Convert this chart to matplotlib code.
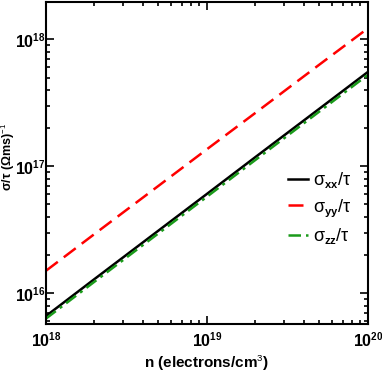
import matplotlib
matplotlib.use("Agg")
import matplotlib.pyplot as plt
from matplotlib.ticker import LogLocator, NullFormatter
try:
    import matplotlib._mathtext as _mt
    _mt.SHRINK_FACTOR = 0.62
except Exception:
    pass

n = [1e18, 2e18, 5e18, 1e19, 2e19, 5e19, 1e20]
sigma_xx = [6.6e15, 1.29e16, 3.11e16, 6.05e16, 1.18e17, 2.84e17, 5.53e17]
sigma_yy = [1.5e16, 2.92e16, 7.0e16, 1.36e17, 2.63e17, 6.32e17, 1.22e18]
sigma_zz = [6.3e15, 1.23e16, 2.96e16, 5.75e16, 1.12e17, 2.70e17, 5.25e17]

plt.rcParams['font.family'] = ['Liberation Sans', 'DejaVu Sans']
plt.rcParams['mathtext.fontset'] = 'custom'
plt.rcParams['mathtext.rm'] = 'Liberation Sans'
plt.rcParams['mathtext.bf'] = 'Liberation Sans:bold'

fig = plt.figure(figsize=(3.82, 3.82), dpi=100)
ax = fig.add_axes([0.120, 0.152, 0.843, 0.843])

ax.plot(n, sigma_xx, color='black', lw=1.8, ls='-', label='σ$_{\\mathbf{xx}}$/τ')
ax.plot(n, sigma_yy, color='red', lw=1.8, ls=(0, (6, 3)), label='σ$_{\\mathbf{yy}}$/τ')
ax.plot(n, sigma_zz, color='#1a9a1a', lw=1.8, ls=(0, (5, 2, 1.2, 2)), label='σ$_{\\mathbf{zz}}$/τ')

ax.set_xscale('log')
ax.set_yscale('log')
ax.set_xlim(1e18, 1e20)
ax.set_ylim(5.73e15, 1.97e18)

ax.yaxis.set_minor_locator(LogLocator(base=10, subs=range(2, 10), numticks=20))
ax.yaxis.set_minor_formatter(NullFormatter())
ax.xaxis.set_minor_locator(LogLocator(base=10, subs=range(2, 10), numticks=20))
ax.xaxis.set_minor_formatter(NullFormatter())

ax.tick_params(which='both', direction='in', top=True, right=True, width=1.2)
ax.tick_params(which='major', length=6, labelsize=11.5)
ax.tick_params(axis='y', which='major', pad=0.5)
ax.tick_params(axis='x', which='major', pad=5)
ax.tick_params(which='minor', length=3)
for s in ax.spines.values():
    s.set_linewidth(1.5)
for lab in ax.get_xticklabels() + ax.get_yticklabels():
    lab.set_fontweight('bold')

ax.set_xlabel(r'n (electrons/cm$^3$)', fontsize=11, fontweight='bold', labelpad=3)
ax.set_ylabel('σ/τ (Ωms)$^{-1}$', fontsize=9, fontweight='bold')
ax.yaxis.set_label_coords(-0.09, 0.52)

leg = ax.legend(loc='center right', bbox_to_anchor=(1.0, 0.36), frameon=False,
                fontsize=13, handlelength=1.1, handletextpad=0.3, labelspacing=0.4)

fig.savefig('out.png', dpi=100)
